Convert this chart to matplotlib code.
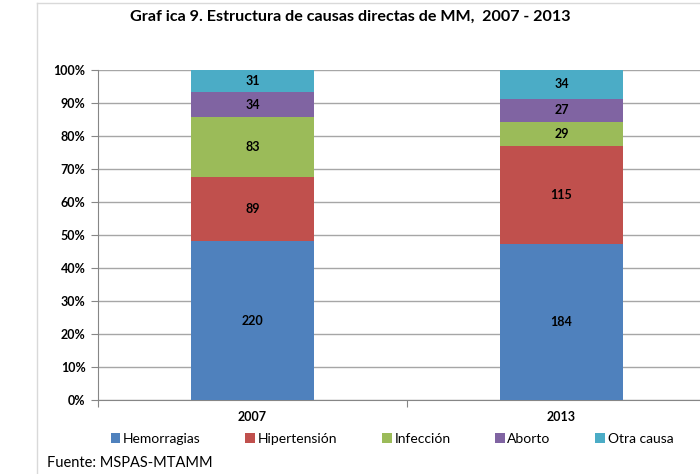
import numpy as np
from matplotlib import pyplot as plt
from matplotlib.lines import Line2D
from matplotlib.ticker import FixedLocator, PercentFormatter

plt.rcParams['font.family'] = ['Lato', 'DejaVu Sans']

years = ['2007', '2013']
causas = ['Hemorragias', 'Hipertensión', 'Infección', 'Aborto', 'Otra causa']
hemorragias = [220, 184]
hipertension = [89, 115]
infeccion = [83, 29]
aborto = [34, 27]
otra_causa = [31, 34]
colores = ['#4F81BD', '#C0504D', '#9BBB59', '#8064A2', '#4BACC6']

series = np.array([hemorragias, hipertension, infeccion, aborto, otra_causa], dtype=float)
totales = series.sum(axis=0)
pct = series / totales * 100

fig = plt.figure(figsize=(7, 4.74), dpi=100)
# ejes: izquierda en x=98px, derecha fuera de la imagen (716px)
ax = fig.add_axes([98 / 700, 74 / 474, 618 / 700, 330 / 474])

x = np.arange(len(years))
base = np.zeros(len(years))
for i in range(len(causas)):
    bars = ax.bar(x, pct[i], width=0.4, bottom=base, color=colores[i],
                  label=causas[i], zorder=3)
    for j, b in enumerate(bars):
        ax.text(b.get_x() + b.get_width() / 2, base[j] + pct[i][j] / 2,
                str(int(series[i][j])), ha='center', va='center',
                fontsize=9, fontweight='bold', color='black', zorder=4)
    base = base + pct[i]

ax.set_xlim(-0.5, 1.5)
ax.set_ylim(0, 100)
ax.yaxis.set_major_locator(FixedLocator(np.arange(0, 101, 10)))
ax.yaxis.set_major_formatter(PercentFormatter(decimals=0))
ax.grid(axis='y', color='#a6a6a6', linewidth=1, zorder=0)

ax.set_xticks([-0.5, 0.5, 1.5])
ax.set_xticklabels([])
ax.set_xticks(x, minor=True)
ax.set_xticklabels(years, minor=True)
ax.tick_params(axis='x', which='minor', length=0, pad=8)
ax.tick_params(axis='x', which='major', length=5, color='#868686')
ax.tick_params(axis='y', length=5, color='#868686', pad=4)
for lbl in ax.get_xticklabels(minor=True) + ax.get_yticklabels():
    lbl.set_fontweight('bold')
    lbl.set_fontsize(9)

for s in ['top', 'right']:
    ax.spines[s].set_visible(False)
for s in ['left', 'bottom']:
    ax.spines[s].set_color('#868686')

fig.text(350 / 700, 1 - 17 / 474, 'Graf ica 9. Estructura de causas directas de MM,  2007 - 2013',
         ha='center', va='center', fontsize=11.6, fontweight='bold')

fig.legend(loc='center', bbox_to_anchor=(392 / 700, 1 - 439 / 474), ncol=5,
           frameon=False, fontsize=10, handlelength=0.7, handleheight=0.7,
           handletextpad=0.2, columnspacing=3.2)

fig.text(47 / 700, 1 - 463 / 474, 'Fuente: MSPAS-MTAMM', ha='left', va='center',
         fontsize=10.5)

# marco exterior gris claro
fig.add_artist(Line2D([37 / 700, 37 / 700], [0, 1 - 3 / 474], color='#d9d9d9', linewidth=1))
fig.add_artist(Line2D([37 / 700, 1], [1 - 3 / 474, 1 - 3 / 474], color='#d9d9d9', linewidth=1))

fig.savefig('out.png', dpi=100)
